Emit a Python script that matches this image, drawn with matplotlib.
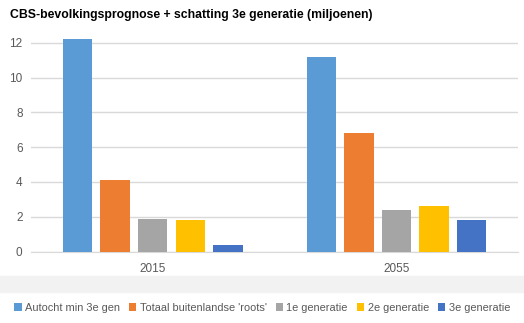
import numpy as np
import matplotlib.pyplot as plt
from matplotlib.patches import Rectangle

# Data
years = ['2015', '2055']
series = ["Autocht min 3e gen", "Totaal buitenlandse 'roots'", "1e generatie",
          "2e generatie", "3e generatie"]
autocht = [12.2, 11.2]
totaal = [4.1, 6.8]
gen1 = [1.9, 2.4]
gen2 = [1.8, 2.6]
gen3 = [0.4, 1.8]
colors = ['#5B9BD5', '#ED7D31', '#A5A5A5', '#FFC000', '#4472C4']

values = [autocht, totaal, gen1, gen2, gen3]
txt = '#595959'
plt.rcParams['font.family'] = ['Liberation Sans', 'DejaVu Sans']

fig = plt.figure(figsize=(5.24, 3.23), dpi=100)
ax = fig.add_axes([0.059, 0.221, 0.930, 0.663])

# light band below the category labels
fig.patches.append(Rectangle((0, 1 - 292 / 323), 1, 16 / 323, transform=fig.transFigure,
                             color='#F2F2F2', zorder=0))

x = np.arange(len(years))
width = 0.121
step = 0.154
for i, (vals, name, c) in enumerate(zip(values, series, colors)):
    ax.bar(x + (i - 2) * step, vals, width, color=c, label=name, zorder=3)

ax.set_xlim(-0.5, 1.5)
ax.set_ylim(0, 12.3)
ax.set_yticks(range(0, 13, 2))
ax.set_xticks(x)
ax.set_xticklabels(years)
ax.grid(axis='y', color='#D9D9D9', linewidth=1, zorder=0)
for s in ax.spines.values():
    s.set_visible(False)
ax.spines['bottom'].set_visible(True)
ax.spines['bottom'].set_color('#D9D9D9')
ax.tick_params(length=0, colors=txt, labelsize=8.5)
ax.tick_params(axis='x', pad=8)
ax.tick_params(axis='y', pad=6)

fig.text(0.019, 1 - 15 / 323, 'CBS-bevolkingsprognose + schatting 3e generatie (miljoenen)',
         fontsize=8.85, fontweight='bold', color='black', va='center')

fig.legend(loc='center', bbox_to_anchor=(0.5, 1 - 308 / 323), ncol=5, frameon=False,
           fontsize=7.9, labelcolor=txt, handlelength=0.7, handleheight=0.7,
           handletextpad=0.3, columnspacing=0.8)

plt.savefig('out.png', dpi=100)
